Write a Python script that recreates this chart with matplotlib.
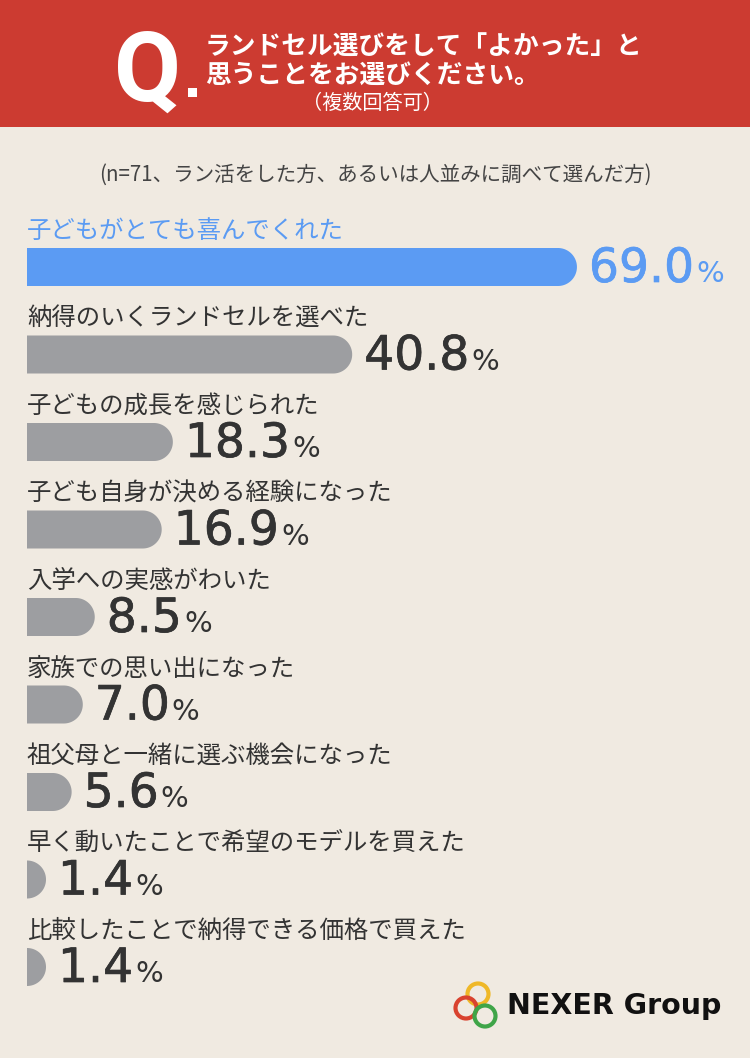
import matplotlib
matplotlib.use("Agg")
import matplotlib.pyplot as plt
import matplotlib.patheffects as pe
from matplotlib.patches import Rectangle, Polygon, Circle
import numpy as np

# data
labels = [
    "子どもがとても喜んでくれた",
    "納得のいくランドセルを選べた",
    "子どもの成長を感じられた",
    "子ども自身が決める経験になった",
    "入学への実感がわいた",
    "家族での思い出になった",
    "祖父母と一緒に選ぶ機会になった",
    "早く動いたことで希望のモデルを買えた",
    "比較したことで納得できる価格で買えた",
]
values = [69.0, 40.8, 18.3, 16.9, 8.5, 7.0, 5.6, 1.4, 1.4]
title_lines = ["ランドセル選びをして「よかった」と", "思うことをお選びください。"]
title_note = "（複数回答可）"
subtitle = "(n=71、ラン活をした方、あるいは人並みに調べて選んだ方)"

W, H = 750, 1058
BG = "#F0EAE1"
RED = "#CC3B31"
BLUE = "#5B9BF3"
GRAY = "#9D9EA1"
DARK = "#333333"
JP = ["Noto Sans CJK JP", "DejaVu Sans"]
NUM = ["DejaVu Sans"]

fig = plt.figure(figsize=(W / 100, H / 100), dpi=100, facecolor=BG)

# header band
fig.patches.append(Rectangle((0, 1 - 127 / H), 1, 127 / H, transform=fig.transFigure,
                             facecolor=RED, edgecolor="none", zorder=0))
fig.text(148 / W, 1 - 101 / H, "Q", color="white", fontsize=70, fontweight="bold",
         family="Roboto", ha="center", va="baseline")
fig.patches.append(Rectangle((188 / W, 1 - 97 / H), 9 / W, 9 / H, transform=fig.transFigure,
                             facecolor="white", edgecolor="none", zorder=1))
fig.text(205 / W, 1 - 47 / H, title_lines[0], color="white", fontsize=18.5,
         fontweight="bold", family=JP, ha="left", va="center")
fig.text(205 / W, 1 - 75 / H, title_lines[1], color="white", fontsize=18.5,
         fontweight="bold", family=JP, ha="left", va="center")
fig.text(372 / W, 1 - 103 / H, title_note, color="white", fontsize=14.5,
         family=JP, ha="center", va="center")

fig.text(375 / W, 1 - 175 / H, subtitle, color="#444444", fontsize=14.8,
         family=JP, ha="center", va="center")

# bar axes: x in percent, y in rows
px_per_pct = 7.97
x0 = 27
row0, row_h = 267, 87.5
ax = fig.add_axes([x0 / W, 0, 1 - x0 / W, 1])
ax.set_xlim(0, (W - x0) / px_per_pct)
ax.set_ylim((H - row0) / row_h, -row0 / row_h)
ax.axis("off")
ax.patch.set_alpha(0)

bar_h = 38 / row_h
rx = 19 / px_per_pct
ry = bar_h / 2
t = np.linspace(-np.pi / 2, np.pi / 2, 60)

for i, (lab, v) in enumerate(zip(labels, values)):
    c = BLUE if i == 0 else GRAY
    tc = BLUE if i == 0 else DARK
    flat = max(v - rx, 0)
    # flat left edge, rounded right cap
    arc = np.column_stack([flat + rx * np.cos(t), i + ry * np.sin(t)])
    pts = np.vstack([[0, i - ry], arc, [0, i + ry]])
    ax.add_patch(Polygon(pts, closed=True, facecolor=c, edgecolor="none"))

    ax.text(0, i - 36 / row_h, lab, color=tc, fontsize=17.6, family=JP,
            ha="left", va="center")

    end = flat + rx
    nt = ax.text(end + 12 / px_per_pct, i + 15 / row_h, f"{v:.1f}", color=tc,
                 fontsize=34, family=NUM, ha="left", va="baseline",
                 path_effects=[pe.withStroke(linewidth=0.5, foreground=tc)])
    fig.canvas.draw()
    bb = nt.get_window_extent()
    xr = ax.transData.inverted().transform((bb.x1, bb.y0))[0]
    ax.text(xr + 2 / px_per_pct, i + 15 / row_h, "%", color=tc, fontsize=21,
            family=NUM, ha="left", va="baseline")

# logo
lax = fig.add_axes([0, 0, 1, 1])
lax.set_xlim(0, W)
lax.set_ylim(H, 0)
lax.axis("off")
lax.patch.set_alpha(0)
for (cx, cy), col in zip([(478, 994), (466, 1008), (485, 1016)],
                         ["#EFB828", "#D9432F", "#3FA548"]):
    lax.add_patch(Circle((cx, cy), 10.5, facecolor="none", edgecolor=col, linewidth=3))
lax.text(507, 1006, "NEXER Group", color="#111111", fontsize=20.5, fontweight="bold",
         family="DejaVu Sans", ha="left", va="center")

fig.savefig("out.png", dpi=100, facecolor=BG)
